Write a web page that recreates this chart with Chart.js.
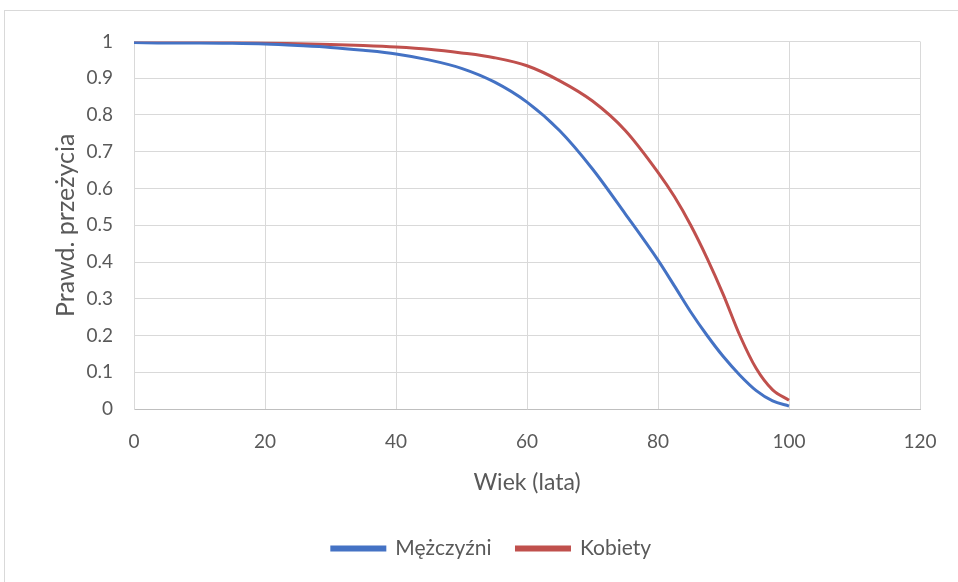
<!DOCTYPE html>
<html>
<head>
<meta charset="utf-8">
<script src="https://cdn.jsdelivr.net/npm/chart.js@4"></script>
<style>
  html, body { margin: 0; padding: 0; background: #fff; overflow: hidden; }
  #box { position: absolute; left: 4px; top: 10px; width: 990px; height: 580px; border: 1px solid #d9d9d9; }
  #wrap { position: absolute; left: 0; top: 0; width: 973px; height: 571px; }
</style>
</head>
<body>
<div id="box"><div id="wrap"><canvas id="myChart"></canvas></div></div>
<script>
var ages = [0, 5, 10, 15, 20, 25, 30, 35, 40, 45, 50, 55, 60, 65, 70, 75, 80, 82.5, 85, 87.5, 90, 92.5, 95, 97.5, 100];
var men = [0.997, 0.996, 0.996, 0.995, 0.993, 0.989, 0.984, 0.976, 0.966, 0.950, 0.927, 0.890, 0.835, 0.757, 0.653, 0.531, 0.405, 0.335, 0.264, 0.200, 0.142, 0.092, 0.050, 0.022, 0.008];
var women = [0.998, 0.998, 0.997, 0.997, 0.996, 0.994, 0.992, 0.989, 0.985, 0.979, 0.969, 0.956, 0.934, 0.893, 0.838, 0.758, 0.644, 0.578, 0.500, 0.410, 0.310, 0.200, 0.110, 0.052, 0.024];
var xTicks = [0, 20, 40, 60, 80, 100, 120];
var yTicks = [0, 0.1, 0.2, 0.3, 0.4, 0.5, 0.6, 0.7, 0.8, 0.9, 1];

function pts(vals) {
  return ages.map(function (a, i) { return { x: a, y: vals[i] }; });
}

var grey = "#595959";
var font = "Lato, 'Noto Sans', sans-serif";

var ctx1 = document.getElementById("myChart").getContext("2d");
var myChart1 = new Chart(ctx1, {
  type: "line",
  data: {
    datasets: [
      {
        label: "Mężczyźni",
        data: pts(men),
        borderColor: "#4472C4",
        backgroundColor: "#4472C4",
        borderWidth: 3,
        pointRadius: 0,
        cubicInterpolationMode: "monotone",
      },
      {
        label: "Kobiety",
        data: pts(women),
        borderColor: "#C0504D",
        backgroundColor: "#C0504D",
        borderWidth: 3,
        pointRadius: 0,
        cubicInterpolationMode: "monotone",
      },
    ],
  },
  options: {
    responsive: true,
    maintainAspectRatio: false,
    animation: false,
    layout: { padding: { top: 30, right: 0, left: 0, bottom: 13 } },
    plugins: {
      tooltip: { enabled: false },
      legend: {
        position: "bottom",
        labels: {
          boxWidth: 53,
          boxHeight: 3,
          padding: 25,
          color: grey,
          font: { family: font, size: 21 },
        },
      },
    },
    scales: {
      x: {
        type: "linear",
        min: 0,
        max: 120,
        afterBuildTicks: function (s) { s.ticks = xTicks.map(function (v) { return { value: v }; }); },
        afterFit: function (s) { s.height = 104; },
        grid: { color: "#d9d9d9", drawTicks: false },
        border: { color: "#bfbfbf", width: 1 },
        ticks: { padding: 21, color: grey, font: { family: font, size: 19 }, maxRotation: 0 },
        title: { display: true, text: "Wiek (lata)", color: grey, font: { family: font, size: 23 }, padding: { top: 0, bottom: 17 } },
      },
      y: {
        min: 0,
        max: 1,
        afterBuildTicks: function (s) { s.ticks = yTicks.map(function (v) { return { value: v }; }); },
        afterFit: function (s) { s.width = 129; },
        grid: { color: "#d9d9d9", drawTicks: false },
        border: { color: "#d9d9d9", width: 1 },
        ticks: {
          padding: 21,
          color: grey,
          font: { family: font, size: 19, lineHeight: 1 },
          callback: function (v) { return String(Number(v.toFixed(1))); },
        },
        title: { display: true, text: "Prawd. przeżycia", color: grey, font: { family: font, size: 25 }, padding: { top: 46, bottom: 0 } },
      },
      // empty right-hand space, so the legend centres like the original
      yRight: {
        position: "right",
        min: 0,
        max: 1,
        afterFit: function (s) { s.width = 58; },
        grid: { drawOnChartArea: false, drawTicks: false },
        border: { display: false },
        ticks: { display: false },
      },
    },
  },
});
</script>
</body>
</html>
